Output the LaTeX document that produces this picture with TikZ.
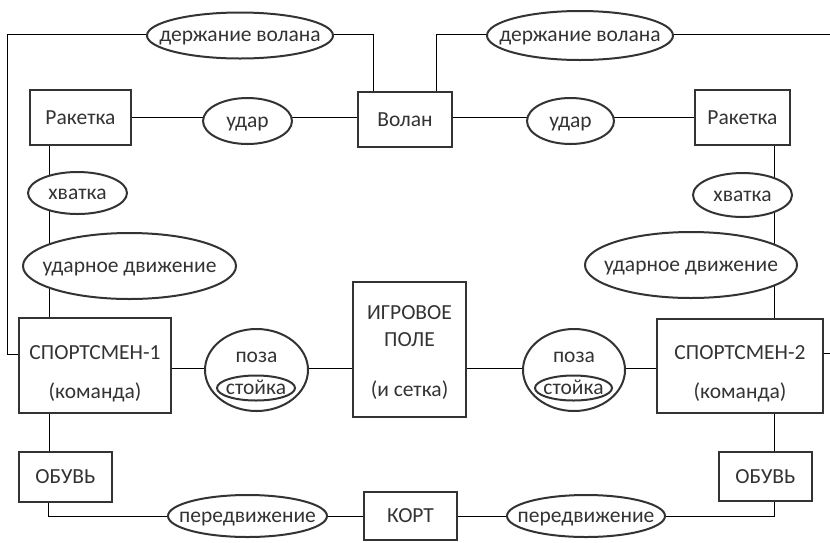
\documentclass[tikz,border=0pt]{standalone}
\usepackage{fontspec}
\setmainfont{Carlito}
\usetikzlibrary{shapes.geometric,backgrounds}
\definecolor{ink}{HTML}{333333}
\newcommand{\nar}[1]{\makebox[0pt]{#1}}
\tikzset{
  entity/.style={draw=ink, fill=white, rectangle, inner sep=0pt, align=center},
  rel/.style={draw=ink, fill=white, ellipse, inner sep=0pt, text height=13pt, text depth=1pt},
}
\begin{document}
\begin{tikzpicture}[x=1pt, y=-1pt, line width=2pt, draw=ink, text=ink,
    font=\fontsize{21.5}{27}\selectfont]
  \useasboundingbox (0,0) rectangle (830,542);
  \coordinate (edgeR) at (830,0);
  % top row
  \node[rel, minimum width=186pt, minimum height=46pt] (hold1) at (240,35.5) {\nar{держание волана}};
  \node[rel, minimum width=186pt, minimum height=49pt] (hold2) at (580,35.5) {\nar{держание волана}};
  \node[entity, minimum width=101pt, minimum height=55pt] (rack1) at (80.5,117.5) {Ракетка};
  \node[rel, minimum width=89pt, minimum height=46pt] (hit1) at (247.5,121) {\nar{удар}};
  \node[entity, minimum width=94pt, minimum height=55pt] (volan) at (405,119.5) {Волан};
  \node[rel, minimum width=87pt, minimum height=46pt] (hit2) at (570.5,121) {\nar{удар}};
  \node[entity, minimum width=95pt, minimum height=55pt] (rack2) at (742.5,117.5) {Ракетка};
  % grip and swing
  \node[rel, minimum width=99pt, minimum height=42pt] (grip1) at (77.5,193) {\nar{хватка}};
  \node[rel, minimum width=99pt, minimum height=44pt] (grip2) at (742.5,195) {\nar{хватка}};
  \node[rel, minimum width=213pt, minimum height=66pt] (swing1) at (129.5,266) {\nar{ударное движение}};
  \node[rel, minimum width=212pt, minimum height=66pt] (swing2) at (691,265) {\nar{ударное движение}};
  % players, stance, field
  \node[entity, minimum width=152pt, minimum height=95pt] (sp1) at (95,365.5) {\rule{0pt}{30pt}СПОРТСМЕН-1\\[12pt](команда)};
  \node[entity, minimum width=166pt, minimum height=94pt] (sp2) at (740,366) {\rule{0pt}{30pt}СПОРТСМЕН-2\\[12pt](команда)};
  \node[entity, minimum width=113pt, minimum height=135pt] (field) at (409.5,349.5) {\rule{0pt}{19pt}ИГРОВОЕ\\ПОЛЕ\\[23pt](и сетка)};
  \node[rel, minimum width=103pt, minimum height=82pt] (pose1) at (256.5,370) {};
  \node[rel, minimum width=102pt, minimum height=82pt] (pose2) at (574,370) {};
  \node (poseT1) at (256.5,357) {поза};
  \node (poseT2) at (574,357) {поза};
  \node[rel, minimum width=78pt, minimum height=25pt] (stance1) at (256,388) {\nar{стойка}};
  \node[rel, minimum width=77pt, minimum height=25pt] (stance2) at (573.5,388) {\nar{стойка}};
  % bottom row
  \node[entity, minimum width=93pt, minimum height=50pt] (shoe1) at (65.5,477) {ОБУВЬ};
  \node[entity, minimum width=93pt, minimum height=49pt] (shoe2) at (765.5,476.5) {ОБУВЬ};
  \node[rel, minimum width=159pt, minimum height=42pt] (move1) at (247.5,516) {\nar{передвижение}};
  \node[entity, minimum width=93pt, minimum height=48pt] (court) at (410.5,516) {КОРТ};
  \node[rel, minimum width=158pt, minimum height=42pt] (move2) at (586,516) {\nar{передвижение}};
  \begin{scope}[on background layer]
    \draw ([yshift=1.5pt]hold1.west) -| ([xshift=-11pt,yshift=11.5pt]sp1.west) -- ([yshift=11.5pt]sp1.west);
    \draw ([yshift=1.5pt]hold1.east) -| ([xshift=-32pt]volan.north);
    \draw ([xshift=31pt]volan.north) |- ([yshift=1.5pt]hold2.west);
    \draw ([yshift=1.5pt]hold2.east) -- ([yshift=1.5pt]hold2.east -| edgeR);
    \draw (rack1.east) -- (rack1.east -| volan.west);
    \draw (rack2.west -| volan.east) -- (rack2.west);
    \draw ([xshift=-31.5pt]rack1.south) -- ([xshift=-46pt]sp1.north);
    \draw ([xshift=31.5pt]rack2.south) -- ([xshift=34pt]sp2.north);
    \draw ([yshift=2pt]pose1.west -| sp1.east) -- ([yshift=2pt]pose1.west -| field.west);
    \draw ([yshift=2pt]pose2.west -| field.east) -- ([yshift=2pt]pose2.west -| sp2.west);
    \draw ([yshift=13pt]sp2.east) -- ([yshift=13pt]sp2.east -| edgeR);
    \draw ([xshift=-46pt]sp1.south) -- ([xshift=-16.5pt]shoe1.north);
    \draw ([xshift=34pt]sp2.south) -- ([xshift=8.5pt]shoe2.north);
    \draw ([xshift=-17.5pt]shoe1.south) |- (move1.west);
    \draw (move2.east) -| ([xshift=8.5pt]shoe2.south);
    \draw (move1 -| move1.east) -- (move1 -| court.west);
    \draw (move2 -| court.east) -- (move2 -| move2.west);
  \end{scope}
\end{tikzpicture}
\end{document}
